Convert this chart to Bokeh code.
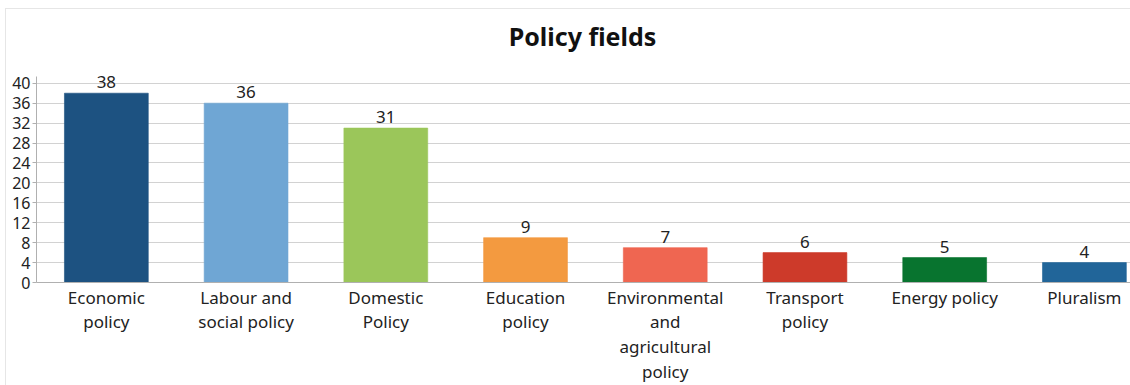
from bokeh.plotting import figure
from bokeh.models import ColumnDataSource, Range1d, FixedTicker, LabelSet, Label
from bokeh.core.properties import value
from bokeh.embed import file_html
from bokeh.resources import INLINE

categories = ["Economic policy", "Labour and social policy", "Domestic Policy",
              "Education policy", "Environmental and agricultural policy",
              "Transport policy", "Energy policy", "Pluralism"]
tick_labels = ["Economic\npolicy", "Labour and\nsocial policy", "Domestic\nPolicy",
               "Education\npolicy", "Environmental\nand\nagricultural\npolicy",
               "Transport\npolicy", "Energy policy", "Pluralism"]
values = [38, 36, 31, 9, 7, 6, 5, 4]
colors = ["#1d5281", "#6fa6d4", "#9bc65a", "#f39a40", "#ef6651", "#cd3a2a", "#08742f", "#216599"]
y_ticks = list(range(0, 41, 4))
title_text = "Policy fields"

FONT = "Noto Sans"
TXT = "#222222"

xs = [i + 0.5 for i in range(len(categories))]
src = ColumnDataSource(dict(x=xs, top=values, color=colors,
                            label=[str(v) for v in values], cat=categories))

p = figure(width=1125, height=377, output_backend="svg", toolbar_location=None,
           x_range=Range1d(0, 7.837), y_range=Range1d(0, 54.8),
           margin=(8, 0, 0, 5),
           min_border_left=30, min_border_right=0, min_border_top=0, min_border_bottom=0)
p.styles = {"border-top": "1px solid #e6e6e6", "border-left": "1px solid #e6e6e6"}

title = Label(x=546, y=247, x_units="screen", y_units="screen", text=title_text,
              text_align="center", text_baseline="middle", text_font=FONT,
              text_font_size="25px", text_font_style="bold", text_color="#111111")
p.add_layout(title)

p.vbar(x="x", top="top", width=0.6, bottom=0, color="color", line_color="color",
       line_alpha=0.6, source=src)

labels = LabelSet(x="x", y="top", text="label", source=src, text_align="center",
                  text_baseline="bottom", y_offset=5, text_font=value(FONT),
                  text_font_size=value("17px"), text_color=TXT)
p.add_layout(labels)

p.outline_line_color = None
p.xgrid.grid_line_color = None
p.ygrid.grid_line_color = "#d2d2d2"
p.ygrid.grid_line_width = 1

p.yaxis.ticker = FixedTicker(ticks=y_ticks)
p.yaxis.bounds = (0, 41.4)
p.yaxis.minor_tick_line_color = None
p.yaxis.major_tick_in = 0
p.yaxis.major_tick_out = 4
p.yaxis.major_tick_line_color = "#b0b0b0"
p.yaxis.axis_line_color = "#b0b0b0"
p.yaxis.major_label_text_font = FONT
p.yaxis.major_label_text_font_size = "16px"
p.yaxis.major_label_text_color = TXT
p.yaxis.major_label_standoff = 2

p.xaxis.ticker = FixedTicker(ticks=xs)
p.xaxis.major_label_overrides = {x: t for x, t in zip(xs, tick_labels)}
p.xaxis.minor_tick_line_color = None
p.xaxis.major_tick_in = 0
p.xaxis.major_tick_out = 0
p.xaxis.axis_line_color = "#b0b0b0"
p.xaxis.major_label_text_font = FONT
p.xaxis.major_label_text_font_size = "17px"
p.xaxis.major_label_text_color = TXT
p.xaxis.major_label_standoff = 3
p.xaxis.major_label_text_line_height = 1.08

open("out.html", "w").write(file_html(p, INLINE))
